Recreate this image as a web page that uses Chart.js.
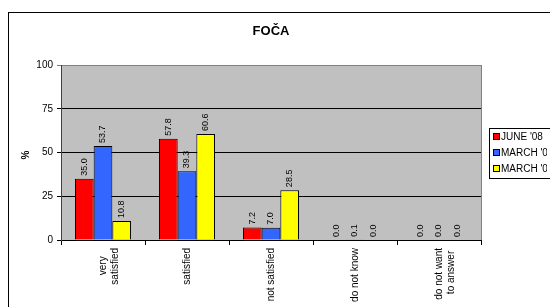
<!DOCTYPE html>
<html>
<head>
<meta charset="utf-8">
<script src="https://cdn.jsdelivr.net/npm/chart.js@4"></script>
<style>
  body { margin: 0; background: #fff; overflow: hidden; }
  canvas { display: block; }
</style>
</head>
<body>
<canvas id="chart" width="550" height="307"></canvas>
<script>
const categories = [["very\u00a0\u00a0\u00a0", "satisfied"], "satisfied", "not satisfied", "do not know", ["do not want", "to answer\u00a0"]];
const seriesNames = ["JUNE '08", "MARCH '07", "MARCH '06"];
const june08 = [35.0, 57.8, 7.2, 0.0, 0.0];
const march0a = [53.7, 39.3, 7.0, 0.1, 0.0];
const march0b = [10.8, 60.6, 28.5, 0.0, 0.0];
const yTicks = [0, 25, 50, 75, 100];
const colors = ["#FF0000", "#3366FF", "#FFFF00"];

const FONT = "'Liberation Sans', Arial, sans-serif";

const frame = {
  id: "frame",
  beforeDraw(chart) {
    const c = chart.ctx, a = chart.chartArea;
    c.save();
    c.fillStyle = "#C0C0C0";
    c.fillRect(a.left, a.top, a.right - a.left, a.bottom - a.top);
    c.restore();
  },
  afterDraw(chart) {
    const c = chart.ctx, a = chart.chartArea;
    c.save();
    // outer border
    c.strokeStyle = "#000";
    c.lineWidth = 1;
    c.strokeRect(8.5, 12.5, 700, 400);
    // plot right border
    c.strokeStyle = "#808080";
    c.beginPath();
    c.moveTo(Math.round(a.right) + 0.5, a.top);
    c.lineTo(Math.round(a.right) + 0.5, a.bottom);
    c.stroke();
    // title
    c.fillStyle = "#000";
    c.font = "bold 13px " + FONT;
    c.textAlign = "center";
    c.textBaseline = "middle";
    c.fillText("FOČA", (a.left + a.right) / 2, 31);
    // y title
    c.save();
    c.translate(26, 155);
    c.rotate(-Math.PI / 2);
    c.font = "bold 10px " + FONT;
    c.fillText("%", 0, 0);
    c.restore();
    // legend
    c.fillStyle = "#fff";
    c.fillRect(489.5, 128.5, 100, 50);
    c.strokeStyle = "#000";
    c.strokeRect(489.5, 128.5, 100, 50);
    c.beginPath();
    c.rect(0, 0, 547, 307);
    c.clip();
    c.font = "10px " + FONT;
    c.textAlign = "left";
    seriesNames.forEach((name, i) => {
      const y = 137 + i * 16;
      c.fillStyle = colors[i];
      c.fillRect(493.5, y - 3.5, 6, 6);
      c.strokeStyle = "#000";
      c.strokeRect(493.5, y - 3.5, 6, 6);
      c.fillStyle = "#000";
      c.fillText(name, 501, y);
    });
    c.restore();
  },
  afterDatasetsDraw(chart) {
    const c = chart.ctx;
    c.save();
    c.fillStyle = "#000";
    c.font = "9px " + FONT;
    c.textAlign = "left";
    c.textBaseline = "middle";
    chart.data.datasets.forEach((ds, di) => {
      chart.getDatasetMeta(di).data.forEach((bar, i) => {
        c.save();
        c.translate(bar.x, bar.y - 3);
        c.rotate(-Math.PI / 2);
        c.fillText(ds.data[i].toFixed(1), 0, 0);
        c.restore();
      });
    });
    c.restore();
  }
};

new Chart(document.getElementById("chart"), {
  type: "bar",
  data: {
    labels: categories,
    datasets: seriesNames.map((name, i) => ({
      label: name,
      data: [june08, march0a, march0b][i],
      backgroundColor: colors[i],
      borderColor: "#000",
      borderWidth: 1,
      categoryPercentage: 0.667,
      barPercentage: 1
    }))
  },
  options: {
    responsive: false,
    animation: false,
    layout: { padding: { top: 65, right: 69, left: 0, bottom: 0 } },
    plugins: { legend: { display: false }, tooltip: { enabled: false } },
    scales: {
      x: {
        offset: true,
        grid: {
          offset: true,
          drawOnChartArea: false,
          tickLength: 5,
          color: "#000"
        },
        border: { color: "#000" },
        ticks: {
          maxRotation: 90,
          minRotation: 90,
          autoSkip: false,
          padding: 3,
          color: "#000",
          font: { family: FONT, size: 10 }
        },
        afterFit(scale) { scale.height = 67; }
      },
      y: {
        min: 0,
        max: 100,
        afterBuildTicks(scale) { scale.ticks = yTicks.map(v => ({ value: v })); },
        grid: {
          tickLength: 4,
          color: ctx => (ctx.tick && ctx.tick.value === 100 ? "#808080" : "#000")
        },
        border: { color: "#404040" },
        ticks: {
          padding: 4,
          color: "#000",
          font: { family: FONT, size: 10 }
        },
        afterFit(scale) { scale.width = 61; }
      }
    }
  },
  plugins: [frame]
});
</script>
</body>
</html>
